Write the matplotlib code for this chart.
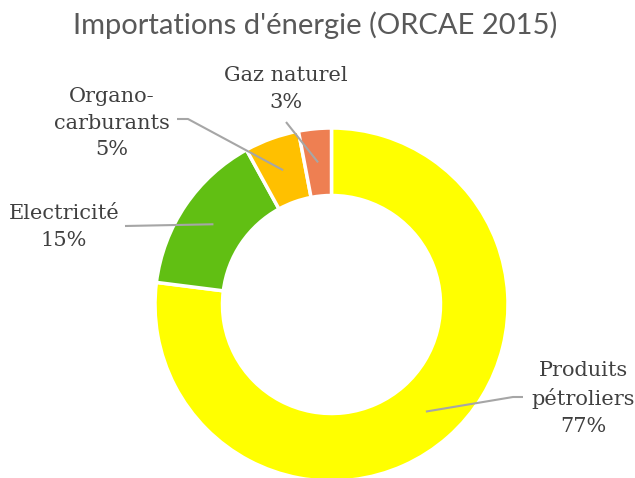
import numpy as np
import matplotlib.pyplot as plt

# Data
categories = ['Produits\npétroliers', 'Electricité', 'Organo-\ncarburants', 'Gaz naturel']
values = [77, 15, 5, 3]
colors = ['#FFFF00', '#61BF13', '#FFC000', '#EE7F52']

W, H = 635, 478
fig = plt.figure(figsize=(W / 100, H / 100), dpi=100)
ax = fig.add_axes([0, 0, 1, 1])

cx, cy = 331.5, H - 304.5
r_out, r_in = 176.5, 109

ax.pie(values, radius=r_out, center=(cx, cy), startangle=90, counterclock=False,
       colors=colors,
       wedgeprops=dict(width=r_out - r_in, edgecolor='white', linewidth=2.5))

ax.set_xlim(0, W)
ax.set_ylim(0, H)
ax.set_aspect('equal')
ax.set_axis_off()

# label text positions (pixels from top-left) and leader start / elbow
label_pos = [(583, 398), (64, 227), (112, 123), (286, 89)]
leader_start = [[(523, 397), (513, 397)],
                [(125, 226)],
                [(177, 119), (188, 119)],
                [(286, 122)]]

r_mid = (r_out + r_in) / 2
cum = np.cumsum([0] + values[:-1])
total = sum(values)
for i, (name, v) in enumerate(zip(categories, values)):
    mid = np.deg2rad(90 - (cum[i] + v / 2) / total * 360)
    ax_pt = (cx + r_mid * np.cos(mid), cy + r_mid * np.sin(mid))
    pts = [(x, H - y) for x, y in leader_start[i]] + [ax_pt]
    xs, ys = zip(*pts)
    ax.plot(xs, ys, color='#A6A6A6', lw=1.5, solid_capstyle='butt')
    tx, ty = label_pos[i]
    ax.text(tx, H - ty, f'{name}\n{v}%', ha='center', va='center',
            fontsize=15, family='DejaVu Serif', color='#404040', linespacing=1.5)

fig.text(315 / W, 1 - 25 / H, "Importations d'énergie (ORCAE 2015)",
         ha='center', va='center', fontsize=21, family='Lato', color='#595959')

fig.savefig('out.png', dpi=100)
